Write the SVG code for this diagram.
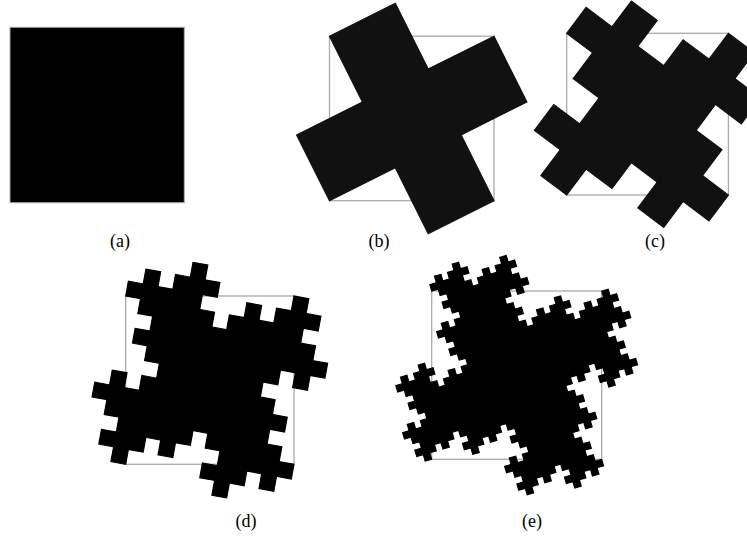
<svg xmlns="http://www.w3.org/2000/svg" width="747" height="538" viewBox="0 0 747 538">
<style>
.frame{fill:none;stroke:#aaa;stroke-width:1.3}
.lbl{font-family:"Liberation Serif","DejaVu Serif","Times New Roman",serif;font-size:18px;fill:#000;text-anchor:middle}
.k{fill:#000;stroke:#000;stroke-linejoin:miter}
.k1{fill:#111;stroke:#111;stroke-linejoin:miter}
</style>
<defs>
<rect id="s0" x="-0.5" y="-0.5" width="1" height="1"/>
<g id="f1">
<use href="#s0" transform="matrix(0.4 -0.2 0.2 0.4 0 0)"/>
<use href="#s0" transform="matrix(0.4 -0.2 0.2 0.4 0.4 -0.2)"/>
<use href="#s0" transform="matrix(0.4 -0.2 0.2 0.4 -0.4 0.2)"/>
<use href="#s0" transform="matrix(0.4 -0.2 0.2 0.4 0.2 0.4)"/>
<use href="#s0" transform="matrix(0.4 -0.2 0.2 0.4 -0.2 -0.4)"/>
</g>
<g id="f2">
<use href="#f1" transform="matrix(0.4 -0.2 0.2 0.4 0 0)"/>
<use href="#f1" transform="matrix(0.4 -0.2 0.2 0.4 0.4 -0.2)"/>
<use href="#f1" transform="matrix(0.4 -0.2 0.2 0.4 -0.4 0.2)"/>
<use href="#f1" transform="matrix(0.4 -0.2 0.2 0.4 0.2 0.4)"/>
<use href="#f1" transform="matrix(0.4 -0.2 0.2 0.4 -0.2 -0.4)"/>
</g>
<g id="f3">
<use href="#f2" transform="matrix(0.4 -0.2 0.2 0.4 0 0)"/>
<use href="#f2" transform="matrix(0.4 -0.2 0.2 0.4 0.4 -0.2)"/>
<use href="#f2" transform="matrix(0.4 -0.2 0.2 0.4 -0.4 0.2)"/>
<use href="#f2" transform="matrix(0.4 -0.2 0.2 0.4 0.2 0.4)"/>
<use href="#f2" transform="matrix(0.4 -0.2 0.2 0.4 -0.2 -0.4)"/>
</g>
<g id="f4">
<use href="#f3" transform="matrix(0.4 -0.2 0.2 0.4 0 0)"/>
<use href="#f3" transform="matrix(0.4 -0.2 0.2 0.4 0.4 -0.2)"/>
<use href="#f3" transform="matrix(0.4 -0.2 0.2 0.4 -0.4 0.2)"/>
<use href="#f3" transform="matrix(0.4 -0.2 0.2 0.4 0.2 0.4)"/>
<use href="#f3" transform="matrix(0.4 -0.2 0.2 0.4 -0.2 -0.4)"/>
</g>
</defs>
<rect width="747" height="538" fill="#fff"/>
<g id="fig-a">
<rect x="10" y="27.3" width="174.3" height="175.4" fill="#000" stroke="#aaa" stroke-width="1"/>
<text class="lbl" x="120" y="247" font-family="Liberation Serif, serif">(a)</text>
</g>
<g id="fig-b">
<rect class="frame" x="329.5" y="36.2" width="164.5" height="164.5"/>
<use href="#f1" class="k1" stroke-width="0.016" transform="translate(411.75 118.45) scale(164.5)"/>
<text class="lbl" x="379" y="247" font-family="Liberation Serif, serif">(b)</text>
</g>
<g id="fig-c">
<rect class="frame" x="566.7" y="33.3" width="161.7" height="161.7"/>
<use href="#f2" class="k1" stroke-width="0.036" transform="translate(647.55 114.15) scale(161.7)"/>
<text class="lbl" x="655" y="247" font-family="Liberation Serif, serif">(c)</text>
</g>
<g id="fig-d">
<rect class="frame" x="125.7" y="296" width="168.3" height="168.3"/>
<use href="#f3" class="k" stroke-width="0.075" transform="translate(209.85 380.15) scale(168.3)"/>
<text class="lbl" x="246" y="527" font-family="Liberation Serif, serif">(d)</text>
</g>
<g id="fig-e">
<rect class="frame" x="431.7" y="291" width="170" height="168.3"/>
<use href="#f4" class="k" stroke-width="0.16" transform="translate(516.7 375.15) scale(170 168.3)"/>
<text class="lbl" x="532" y="527" font-family="Liberation Serif, serif">(e)</text>
</g>
</svg>
